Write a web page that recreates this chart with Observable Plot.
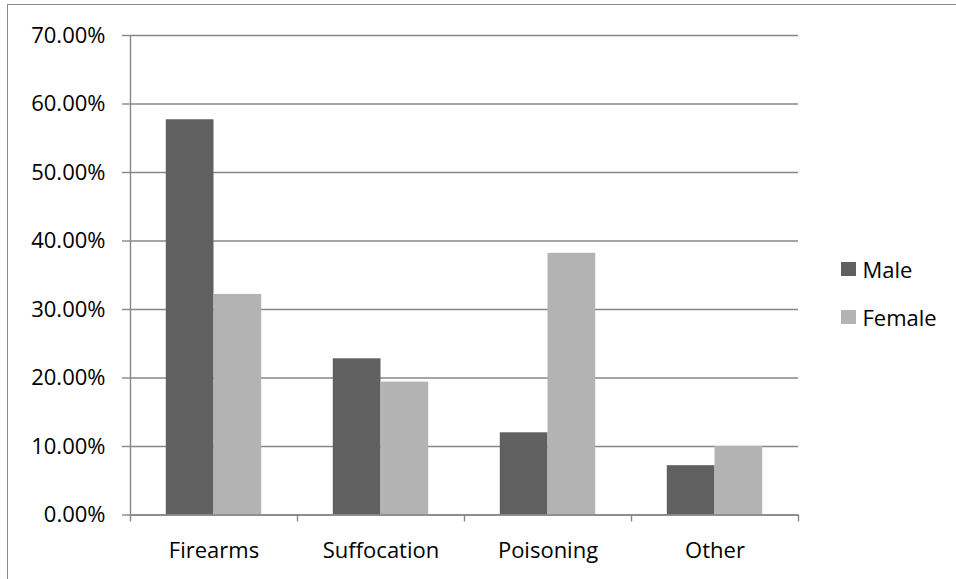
<!DOCTYPE html>
<html>
<head>
<meta charset="utf-8">
<script src="https://cdn.jsdelivr.net/npm/d3@7"></script>
<script src="https://cdn.jsdelivr.net/npm/@observablehq/plot@0.6"></script>
<style>
  html, body { margin: 0; padding: 0; background: #fff; }
  #wrap { position: relative; width: 956px; height: 579px; overflow: hidden; font-family: "Open Sans", sans-serif; }
  #border { position: absolute; left: 7px; top: 4px; width: 1200px; height: 1200px; border: 1.5px solid #8a8a8a; pointer-events: none; }
  #legend { position: absolute; left: 841px; top: 245px; font-size: 22px; color: #000; }
  .item { display: flex; align-items: center; height: 48px; }
  .sw { width: 14.5px; height: 14.5px; margin-right: 7px; }
</style>
</head>
<body>
<div id="wrap"><div id="chart"></div><div id="legend"></div><div id="border"></div></div>
<script>
const categories = ["Firearms", "Suffocation", "Poisoning", "Other"];
const series = ["Male", "Female"];
const male = [57.7, 22.8, 12.0, 7.2];
const female = [32.2, 19.4, 38.2, 10.0];
const yTicks = [0, 10, 20, 30, 40, 50, 60, 70];
const colors = ["#606060", "#b3b3b3"];

const gapWidth = 1.5; // Excel-style gap width
const bw = 1 / (series.length + gapWidth);
const off = (gapWidth / 2) * bw;

const rows = [];
categories.forEach((c, i) => {
  [male, female].forEach((vals, s) => {
    rows.push({cat: c, sex: series[s], x1: i + off + s * bw, x2: i + off + (s + 1) * bw, value: vals[i]});
  });
});

const gray = "#878787";
const chart = Plot.plot({
  width: 956,
  height: 579,
  marginLeft: 130,
  marginRight: 158,
  marginTop: 35,
  marginBottom: 64.5,
  style: {fontFamily: "Open Sans, sans-serif", fontSize: "22px", color: "#000", background: "transparent"},
  x: {domain: [0, categories.length]},
  y: {domain: [0, 70]},
  color: {domain: series, range: colors},
  marks: [
    Plot.gridY(yTicks, {stroke: gray, strokeOpacity: 1, strokeWidth: 1.4}),
    Plot.rectY(rows, {x1: "x1", x2: "x2", y: "value", fill: "sex"}),
    Plot.ruleY([0], {stroke: gray, strokeWidth: 1.4}),
    Plot.ruleX([0], {stroke: gray, strokeWidth: 1.4}),
    Plot.axisY({ticks: yTicks, tickSize: 8, tickPadding: 17, stroke: gray, strokeWidth: 1.4, strokeOpacity: 1,
      tickFormat: d => d.toFixed(2) + "%", label: null, fill: "#000"}),
    Plot.axisX({ticks: d3.range(categories.length + 1), tickSize: 7, stroke: gray, strokeWidth: 1.4, strokeOpacity: 1,
      tickFormat: () => "", label: null}),
    Plot.axisX({ticks: categories.map((c, i) => i + 0.5), tickSize: 0, tickPadding: 27,
      tickFormat: d => categories[Math.floor(d)], label: null, fill: "#000"})
  ]
});
document.getElementById("chart").appendChild(chart);

const legend = document.getElementById("legend");
series.forEach((s, i) => {
  const item = document.createElement("div");
  item.className = "item";
  const sw = document.createElement("div");
  sw.className = "sw";
  sw.style.background = colors[i];
  const t = document.createElement("span");
  t.textContent = s;
  item.appendChild(sw);
  item.appendChild(t);
  legend.appendChild(item);
});
</script>
</body>
</html>
